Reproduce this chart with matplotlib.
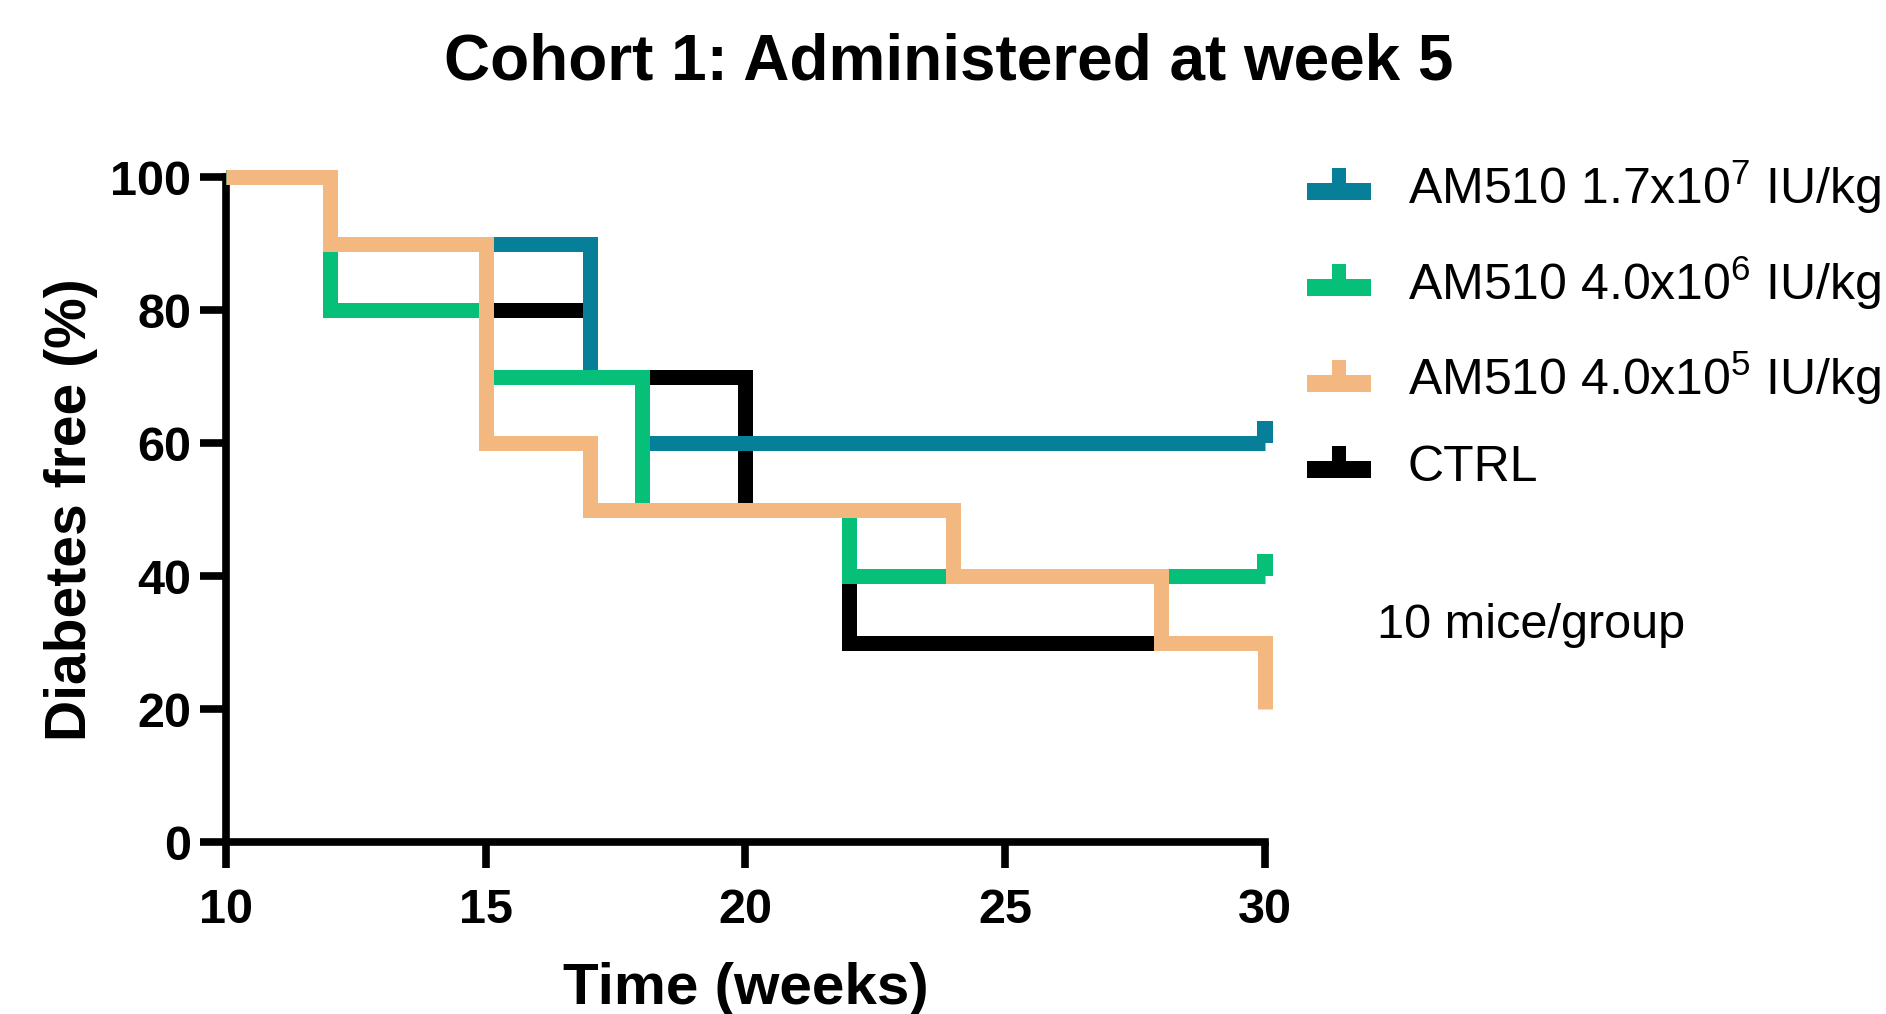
import matplotlib
matplotlib.use("Agg")
import matplotlib.pyplot as plt
from matplotlib.path import Path
from matplotlib.lines import Line2D

plt.rcParams['font.family'] = ['Liberation Sans', 'DejaVu Sans']
plt.rcParams['mathtext.fontset'] = 'custom'
plt.rcParams['mathtext.rm'] = 'Liberation Sans'
plt.rcParams['mathtext.it'] = 'Liberation Sans:italic'
plt.rcParams['mathtext.bf'] = 'Liberation Sans:bold'

# ---- data ----
labels = ['AM510 1.7x10$^{7}$ IU/kg', 'AM510 4.0x10$^{6}$ IU/kg',
          'AM510 4.0x10$^{5}$ IU/kg', 'CTRL']
colors = ['#087F99', '#06C07A', '#F2B880', '#000000']

blue_t = [10, 12, 17, 18, 30]
blue_v = [100, 90, 70, 60, 60]
green_t = [10, 12, 15, 18, 22, 30]
green_v = [100, 80, 70, 50, 40, 40]
orange_t = [10, 12, 15, 17, 24, 28, 30]
orange_v = [100, 90, 60, 50, 40, 30, 20]
ctrl_t = [10, 12, 15, 17, 20, 22, 30]
ctrl_v = [100, 90, 80, 70, 50, 30, 30]

censor_t = [30, 30]
censor_v = [60, 40]
censor_series = [0, 1]

xticks = [10, 15, 20, 25, 30]
yticks = [0, 20, 40, 60, 80, 100]

series = [(blue_t, blue_v), (green_t, green_v), (orange_t, orange_v), (ctrl_t, ctrl_v)]
zorders = [3, 4, 5, 2]

fig = plt.figure(figsize=(18.86, 10.14), dpi=100)
ax = fig.add_axes([0.1198, 0.1696, 0.5509, 0.6558])

LW = 10.8
for (t, v), c, z in zip(series, colors, zorders):
    ax.step(t, v, where='post', color=c, lw=LW, solid_joinstyle='miter',
            solid_capstyle='butt', clip_on=False, zorder=z)

# censor tick marker: stub above the line
stub = Path([(-7.5, 0), (7.5, 0), (7.5, 22), (-7.5, 22), (-7.5, 0)],
            [Path.MOVETO, Path.LINETO, Path.LINETO, Path.LINETO, Path.CLOSEPOLY])
for t, v, s in zip(censor_t, censor_v, censor_series):
    ax.plot([t], [v], marker=stub, markersize=31.7, color=colors[s],
            markeredgewidth=0, linestyle='none', clip_on=False, zorder=zorders[s])

ax.set_xlim(10, 30)
ax.set_ylim(0, 100)
ax.set_xticks(xticks)
ax.set_yticks(yticks)
for s in ['top', 'right']:
    ax.spines[s].set_visible(False)
for s in ['left', 'bottom']:
    ax.spines[s].set_linewidth(5.5)
    ax.spines[s].set_capstyle('projecting')
ax.tick_params(width=5.5, length=19, labelsize=35)
ax.tick_params(axis='x', pad=14)
ax.tick_params(axis='y', pad=6)
for lab in ax.get_xticklabels() + ax.get_yticklabels():
    lab.set_fontweight('bold')

ax.set_xlabel('Time (weeks)', fontsize=42, fontweight='bold', labelpad=21)
ax.set_ylabel('Diabetes free (%)', fontsize=41, fontweight='bold', labelpad=9)
fig.text(0.503, 0.938, 'Cohort 1: Administered at week 5', fontsize=46,
         fontweight='bold', ha='center', va='center')

# legend marker: line with stub on top
leg_path = Path([(-1, -0.45), (1, -0.45), (1, 0.08), (0.23, 0.08), (0.23, 0.55),
                 (-0.23, 0.55), (-0.23, 0.08), (-1, 0.08), (-1, -0.45)],
                [Path.MOVETO] + [Path.LINETO] * 7 + [Path.CLOSEPOLY])
handles = [Line2D([], [], marker=leg_path, markersize=46, color=c,
                  markeredgewidth=0, linestyle='none') for c in colors]
leg = fig.legend(handles, labels, loc='upper left', bbox_to_anchor=(0.693, 0.844),
                 frameon=False, fontsize=36, handlelength=1.3, handletextpad=0.72,
                 labelspacing=0.76, borderaxespad=0, borderpad=0)

fig.text(0.730, 0.383, '10 mice/group', fontsize=35, ha='left', va='center')

fig.savefig('out.png', dpi=100)
